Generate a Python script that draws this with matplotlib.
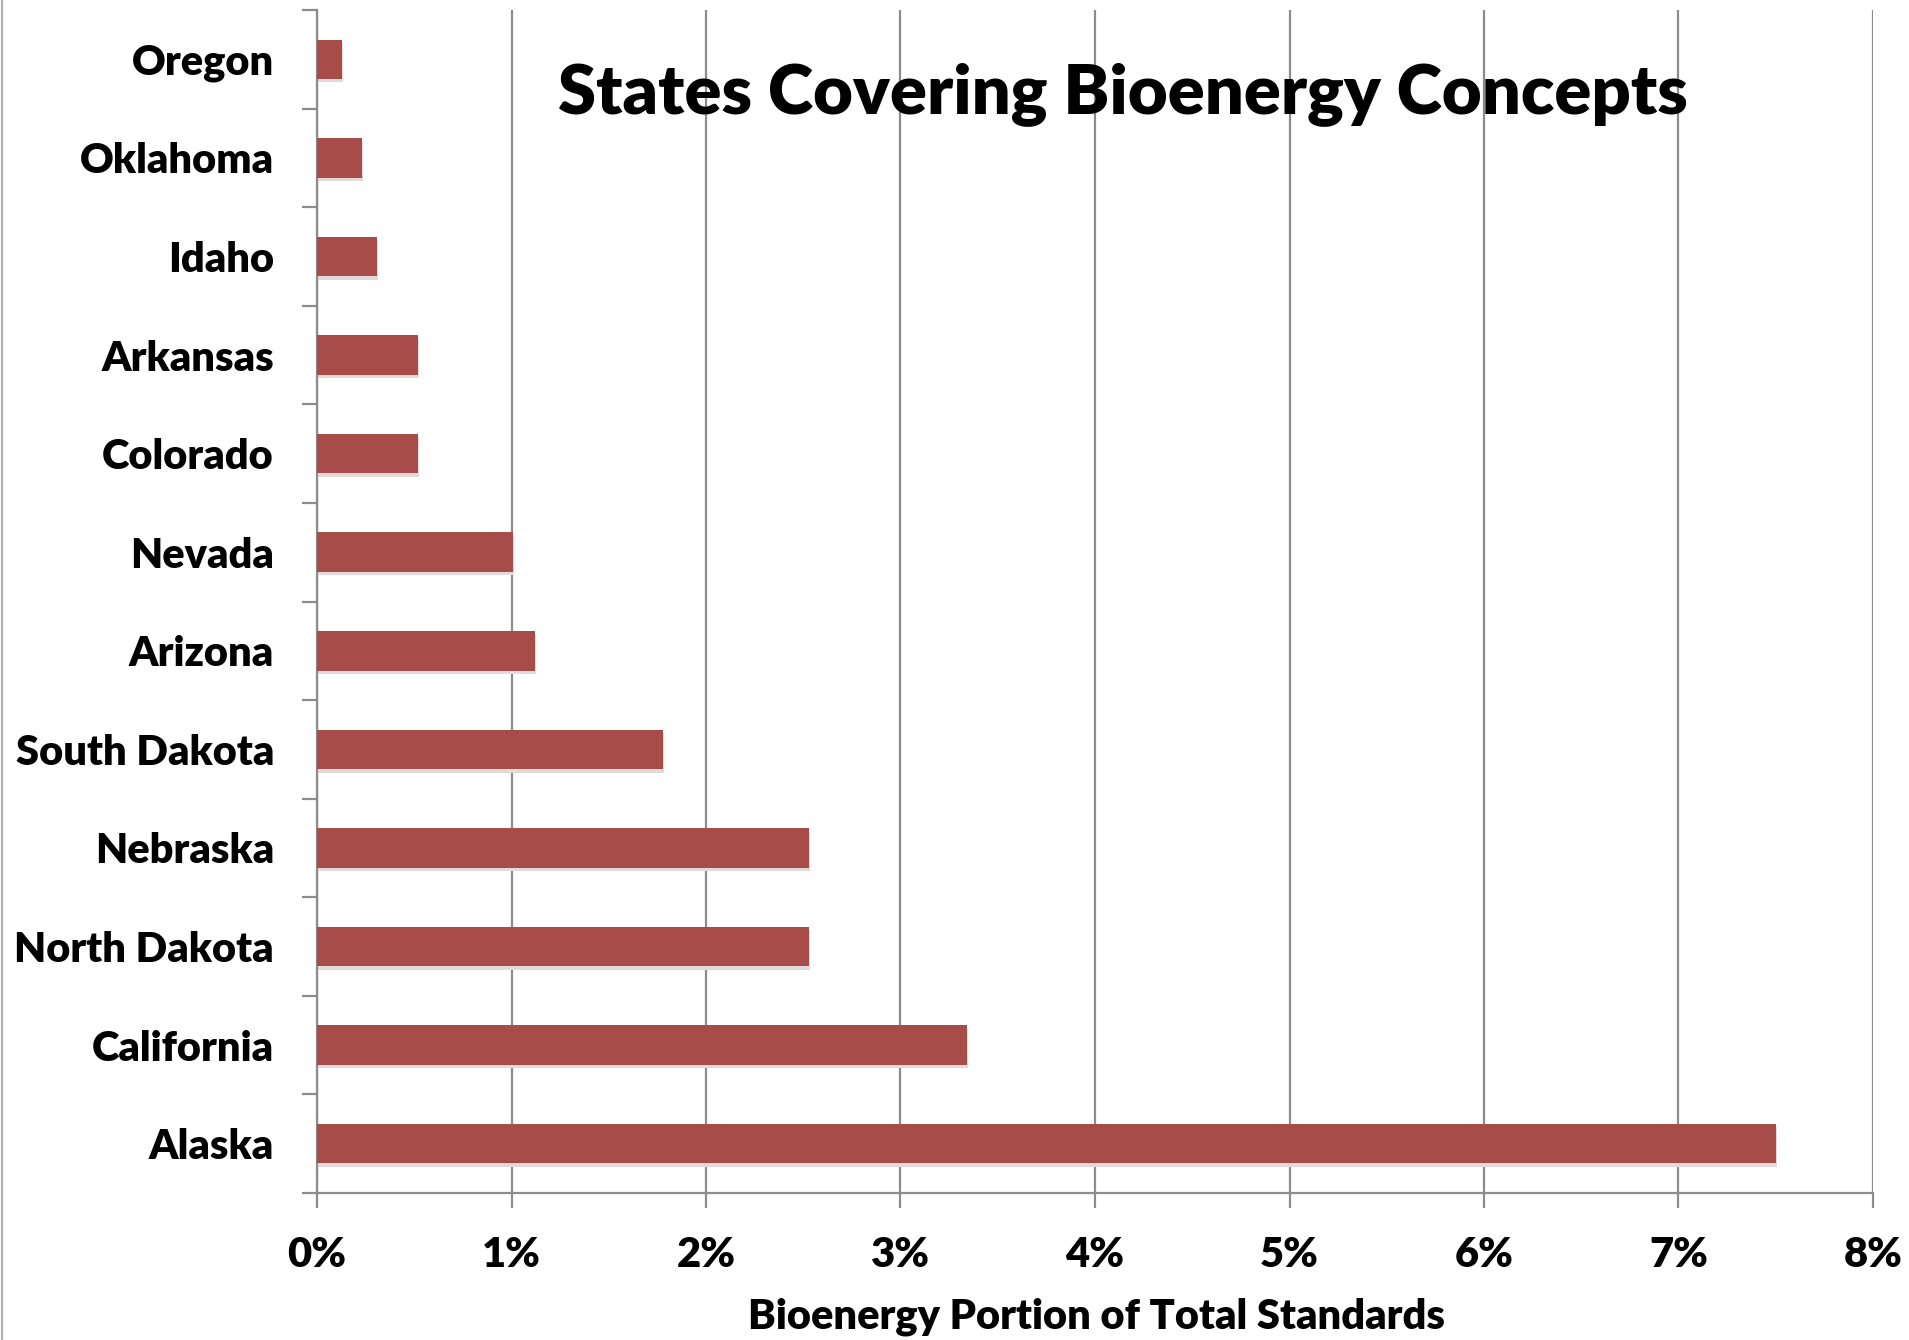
import matplotlib
matplotlib.use("Agg")
import matplotlib.pyplot as plt
from matplotlib.lines import Line2D
from matplotlib.ticker import FixedLocator, PercentFormatter

# share of each state's standards that cover bioenergy (percent)
states = ["Alaska", "California", "North Dakota", "Nebraska", "South Dakota",
          "Arizona", "Nevada", "Colorado", "Arkansas", "Idaho", "Oklahoma",
          "Oregon"]
share = [7.50, 3.34, 2.53, 2.53, 1.78, 1.12, 1.01, 0.52, 0.52, 0.31, 0.23,
         0.13]
x_ticks = [0, 1, 2, 3, 4, 5, 6, 7, 8]

BAR = "#a84c4a"
GRID = "#8c8c8c"
WEIGHT = "heavy"

plt.rcParams["font.family"] = ["Lato", "DejaVu Sans"]

fig = plt.figure(figsize=(19.09, 13.40), dpi=100)
ax = fig.add_axes([317 / 1909, 1 - 1193 / 1340, (1873 - 317) / 1909,
                   (1193 - 10) / 1340])

ypos = list(range(len(states)))
# soft shadow under each bar, then the bar itself
ax.barh([y - 0.035 for y in ypos], share, height=0.4, left=0.005,
        color="#e2dada", zorder=2, linewidth=0)
ax.barh(ypos, share, height=0.4, color=BAR, zorder=3, linewidth=0)

ax.set_xlim(0, 8)
ax.set_ylim(-0.5, len(states) - 0.5)
ax.set_xticks(x_ticks)
ax.xaxis.set_major_formatter(PercentFormatter(decimals=0))
ax.grid(axis="x", color=GRID, linewidth=1.6, zorder=1)
ax.set_axisbelow(True)

ax.set_yticks(ypos)
ax.set_yticklabels(states)
ax.yaxis.set_minor_locator(FixedLocator([y - 0.5 for y in range(len(states) + 1)]))
ax.tick_params(axis="y", which="major", length=0, pad=31, labelsize=30)
ax.tick_params(axis="y", which="minor", length=11, width=1.6, color=GRID)
ax.tick_params(axis="x", which="major", length=11, width=1.6, color=GRID,
               labelsize=30, pad=20)
for lab in ax.get_yticklabels() + ax.get_xticklabels():
    lab.set_fontweight(WEIGHT)

for side in ("top", "right"):
    ax.spines[side].set_visible(False)
for side in ("left", "bottom"):
    ax.spines[side].set_color(GRID)
    ax.spines[side].set_linewidth(1.6)

# axis title placed by its baseline so descenders stay inside the image
fig.text(1096 / 1909, 1 - 1329 / 1340, "Bioenergy Portion of Total Standards",
         ha="center", va="baseline", fontsize=30, fontweight=WEIGHT)

fig.text(1123 / 1909, 1 - 113 / 1340, "States Covering Bioenergy Concepts",
         ha="center", va="baseline", fontsize=49.5, fontweight=WEIGHT)

# thin border line at the very left edge of the image
fig.add_artist(Line2D([2 / 1909, 2 / 1909], [0, 1], color="#b0b0b0",
                      linewidth=1.5, transform=fig.transFigure))

fig.savefig("out.png", dpi=100)
